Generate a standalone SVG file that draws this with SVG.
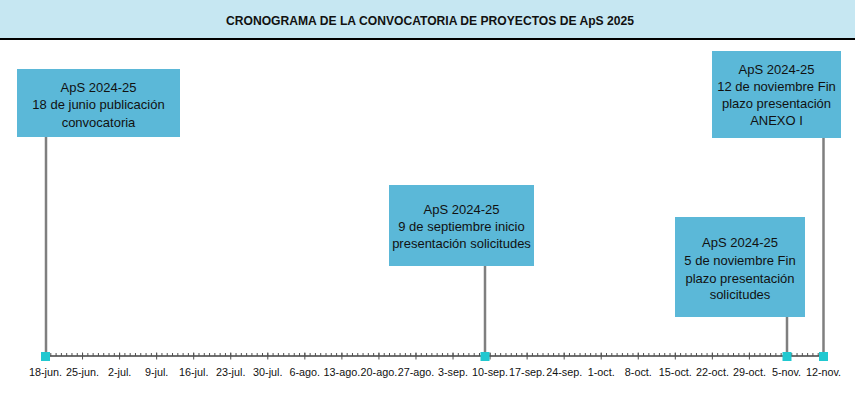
<svg xmlns="http://www.w3.org/2000/svg" width="855" height="394" viewBox="0 0 855 394">
<style>
.box{fill:#5BB8D8;}
.bt{font-family:"Liberation Sans",Arial,sans-serif;font-size:13px;fill:#111111;text-anchor:middle;}
.lbl{font-family:"Liberation Sans",Arial,sans-serif;font-size:10.8px;fill:#111111;text-anchor:middle;}
.stem{stroke:#7F7F7F;stroke-width:2.5;fill:none;}
.mk{fill:#20C8D0;}
</style>
<rect x="0" y="0" width="855" height="394" fill="#ffffff"/>
<g id="title">
<rect x="0" y="0" width="855" height="38" fill="#C6E7F2"/>
<rect x="0" y="38" width="855" height="2" fill="#000000"/>
<text x="430" y="24.5" font-family="'Liberation Sans',Arial,sans-serif" font-size="12.5" font-weight="bold" text-anchor="middle" textLength="408" lengthAdjust="spacingAndGlyphs" fill="#111">CRONOGRAMA DE LA CONVOCATORIA DE PROYECTOS DE ApS 2025</text>
</g>
<g id="axis">
<line x1="45" y1="356" x2="824" y2="356" stroke="#404040" stroke-width="1.5"/>
<line x1="45" y1="354.5" x2="824" y2="354.5" stroke="#505050" stroke-width="3" stroke-dasharray="1 4.2925"/>
<line x1="45" y1="356" x2="824" y2="356" stroke="#505050" stroke-width="7" stroke-dasharray="1 36.0475"/>
<g class="lbl">
<text x="45.5" y="376">18-jun.</text>
<text x="82.5" y="376">25-jun.</text>
<text x="119.6" y="376">2-jul.</text>
<text x="156.6" y="376">9-jul.</text>
<text x="193.7" y="376">16-jul.</text>
<text x="230.7" y="376">23-jul.</text>
<text x="267.8" y="376">30-jul.</text>
<text x="304.8" y="376">6-ago.</text>
<text x="341.9" y="376">13-ago.</text>
<text x="378.9" y="376">20-ago.</text>
<text x="416.0" y="376">27-ago.</text>
<text x="453.0" y="376">3-sep.</text>
<text x="490.1" y="376">10-sep.</text>
<text x="527.1" y="376">17-sep.</text>
<text x="564.2" y="376">24-sep.</text>
<text x="601.2" y="376">1-oct.</text>
<text x="638.3" y="376">8-oct.</text>
<text x="675.3" y="376">15-oct.</text>
<text x="712.4" y="376">22-oct.</text>
<text x="749.4" y="376">29-oct.</text>
<text x="786.5" y="376">5-nov.</text>
<text x="823.5" y="376">12-nov.</text>
</g>
</g>
<g id="connectors">
<line class="stem" x1="46" y1="137" x2="46" y2="354"/>
<line class="stem" x1="485" y1="265" x2="485" y2="354"/>
<line class="stem" x1="787" y1="317" x2="787" y2="354"/>
<line class="stem" x1="823.5" y1="137" x2="823.5" y2="354"/>
</g>
<g id="markers">
<rect class="mk" x="41" y="352" width="9" height="9"/>
<rect class="mk" x="480.5" y="352" width="9" height="9"/>
<rect class="mk" x="782.5" y="352" width="9" height="9"/>
<rect class="mk" x="819" y="352" width="9" height="9"/>
</g>
<g id="node1">
<rect class="box" x="17" y="69" width="163" height="68"/>
<text class="bt" x="98.5" y="91.5">ApS 2024-25</text>
<text class="bt" x="98.5" y="109">18 de junio publicación</text>
<text class="bt" x="98.5" y="126.5">convocatoria</text>
</g>
<g id="node2">
<rect class="box" x="389" y="185" width="145" height="81"/>
<text class="bt" x="461.5" y="213.5">ApS 2024-25</text>
<text class="bt" x="461.5" y="230.5">9 de septiembre inicio</text>
<text class="bt" x="461.5" y="247.5">presentación solicitudes</text>
</g>
<g id="node3">
<rect class="box" x="675" y="217" width="130" height="100"/>
<text class="bt" x="740" y="247">ApS 2024-25</text>
<text class="bt" x="740" y="265">5 de noviembre Fin</text>
<text class="bt" x="740" y="282.5">plazo presentación</text>
<text class="bt" x="740" y="299">solicitudes</text>
</g>
<g id="node4">
<rect class="box" x="712" y="51" width="129" height="87"/>
<text class="bt" x="776.5" y="74">ApS 2024-25</text>
<text class="bt" x="776.5" y="91">12 de noviembre Fin</text>
<text class="bt" x="776.5" y="108">plazo presentación</text>
<text class="bt" x="776.5" y="124.5">ANEXO I</text>
</g>
</svg>
